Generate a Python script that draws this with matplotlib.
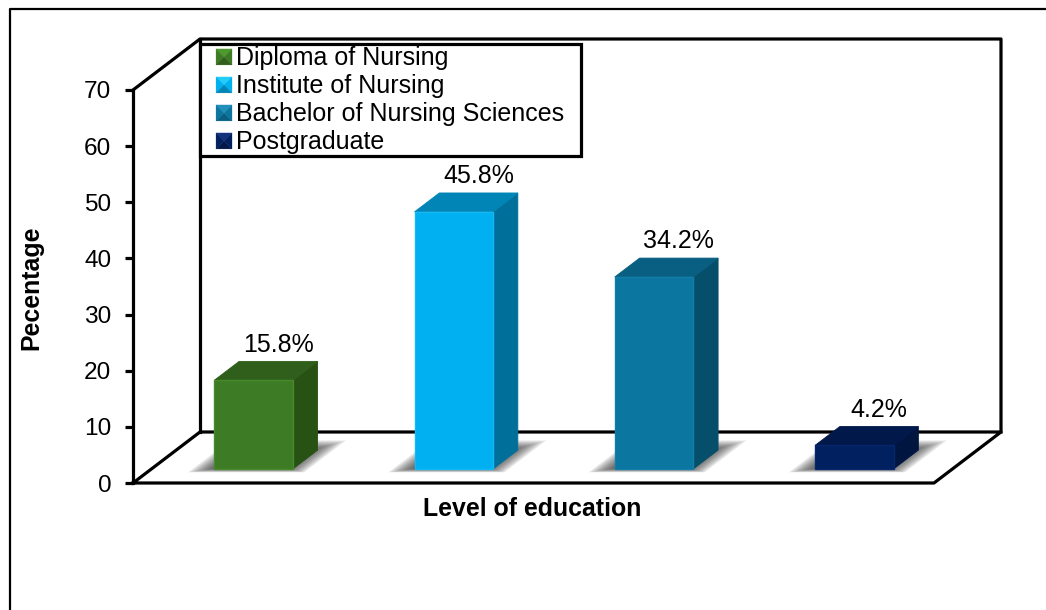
import matplotlib.pyplot as plt
from matplotlib.legend_handler import HandlerBase
from matplotlib.lines import Line2D
from matplotlib.patches import Patch, Polygon

plt.rcParams["font.family"] = ["Liberation Sans", "DejaVu Sans"]

categories = ["Diploma of Nursing", "Institute of Nursing", "Bachelor of Nursing Sciences", "Postgraduate"]
values = [15.8, 45.8, 34.2, 4.2]
value_labels = ["15.8%", "45.8%", "34.2%", "4.2%"]
front_colors = ["#3E7B25", "#00B0F0", "#0B76A0", "#002060"]
top_colors = ["#2F5F1B", "#0085B6", "#085F82", "#00184A"]
side_colors = ["#275214", "#00709B", "#064F6B", "#001540"]
edge_colors = ["#468A2B", "#12B9F5", "#127FAB", "#06276C"]
key_light = ["#4E9A2E", "#22CDFA", "#2390BC", "#14337F"]
y_ticks = [0, 10, 20, 30, 40, 50, 60, 70]

W, H = 1046, 610
LW = 2.3

# depth of the fake 3d box, in data units
DX = 67 / 200.25
DY = 51 / 5.614
BAR_W = 78.5 / 200.25
D0 = 0.275
D1 = 0.645


def pt(x, y, d):
    return (x + d * DX, y + d * DY)


class BevelHandler(HandlerBase):
    def create_artists(self, legend, orig, xd, yd, width, height, fontsize, trans):
        s = 11.5
        x1 = -xd + width
        x0 = x1 - s
        y0 = -yd + height / 2 - s / 2 - 0.5
        y1 = y0 + s
        xm, ym = x0 + s / 2, y0 + s / 2
        front, light, dark = orig.colors
        arts = []
        for pts, c in [
            ([(x0, y1), (x1, y1), (xm, ym)], light),
            ([(x0, y0), (x0, y1), (xm, ym)], front),
            ([(x1, y0), (x1, y1), (xm, ym)], front),
            ([(x0, y0), (x1, y0), (xm, ym)], dark),
        ]:
            arts.append(Polygon(pts, closed=True, fc=c, ec=c, lw=0.2, transform=trans))
        return arts


class BevelKey(Patch):
    def __init__(self, colors, label):
        super().__init__(label=label)
        self.colors = colors


def draw_shadow(ax, left, right):
    # soft floor shadow, stacked from wide and faint to tight and dark
    for k in range(9):
        e = (4 - k) * 0.012
        h = (4 - k) * 0.022
        pts = [
            pt(left - 0.06 - e, 0, 0.245 - h * 0.4),
            pt(right + 0.03 + e, 0, 0.245 - h * 0.4),
            pt(right + 0.03 + e, 0, 0.745 + h),
            pt(left - 0.06 - e, 0, 0.745 + h),
        ]
        ax.add_patch(Polygon(pts, closed=True, fc="#222222", ec="none", alpha=0.115,
                             zorder=3, clip_on=False))


fig = plt.figure(figsize=(W / 100, H / 100), dpi=100)
ax = fig.add_axes([133 / W, (H - 483) / H, 801 / W, 393 / H])
ax.set_xlim(0, 4)
ax.set_ylim(0, 70)

for s in ["top", "right", "bottom"]:
    ax.spines[s].set_visible(False)
ax.spines["left"].set_linewidth(LW)
ax.set_xticks([])
ax.set_yticks(y_ticks)
ax.tick_params(axis="y", length=5.5, width=LW, labelsize=17.6, pad=10)

line_kw = dict(color="black", lw=LW, clip_on=False, zorder=2, solid_capstyle="projecting")
# back wall
xs = [0, DX, 4 + DX, 4 + DX]
ys = [70, 70 + DY, 70 + DY, DY]
ax.plot(xs, ys, **line_kw)
ax.plot([DX, DX], [DY, 70 + DY], **line_kw)
# floor
ax.plot([0, 4, 4 + DX, DX, 0], [0, 0, DY, DY, 0], **line_kw)

for i, v in enumerate(values):
    x = i + 0.51
    left = x - BAR_W / 2
    right = x + BAR_W / 2
    draw_shadow(ax, left, right)
    f0 = pt(left, 0, D0)
    f1 = pt(right, 0, D0)
    f2 = pt(right, v, D0)
    f3 = pt(left, v, D0)
    b1 = pt(right, 0, D1)
    b2 = pt(right, v, D1)
    b3 = pt(left, v, D1)
    ax.add_patch(Polygon([f1, b1, b2, f2], closed=True, fc=side_colors[i], ec=side_colors[i],
                         lw=0.6, zorder=4, clip_on=False))
    ax.add_patch(Polygon([f3, f2, b2, b3], closed=True, fc=top_colors[i], ec=top_colors[i],
                         lw=0.6, zorder=4, clip_on=False))
    ax.add_patch(Polygon([f0, f1, f2, f3], closed=True, fc=front_colors[i], ec=edge_colors[i],
                         lw=1.0, zorder=5, clip_on=False))
    ax.annotate(value_labels[i], xy=((b2[0] + b3[0]) / 2, b2[1]), xytext=(0, 12),
                textcoords="offset points", ha="center", va="center", fontsize=18, zorder=6)

ax.set_xlabel("Level of education", fontsize=17.9, fontweight="bold")
ax.xaxis.set_label_coords((532 - 133) / 801, -(509 - 483) / 393, transform=ax.transAxes)
ax.xaxis.label.set_va("center")
ax.set_ylabel("Pecentage", fontsize=17.9, fontweight="bold")
ax.yaxis.set_label_coords((31 - 133) / 801, (483 - 288) / 393, transform=ax.transAxes)
ax.yaxis.label.set_va("center")

keys = [BevelKey((front_colors[i], key_light[i], top_colors[i]), categories[i])
        for i in range(4)]
leg = ax.legend(
    handles=keys,
    handler_map={BevelKey: BevelHandler()},
    loc="upper left",
    bbox_to_anchor=(200 / W, (H - 155) / H, 381 / W, 111 / H),
    bbox_transform=fig.transFigure,
    mode="expand",
    borderaxespad=0,
    borderpad=0.08,
    fontsize=18,
    labelspacing=0.16,
    handlelength=1.2,
    handletextpad=0.16,
    fancybox=False,
    framealpha=1,
    edgecolor="black",
)
leg.get_frame().set_linewidth(LW)
leg.set_zorder(10)

# outer border of the pasted picture
fig.add_artist(Line2D([10 / W, 10 / W, 1], [0, (H - 9) / H, (H - 9) / H], color="black", lw=1.6))

fig.savefig("out.png", dpi=100)
